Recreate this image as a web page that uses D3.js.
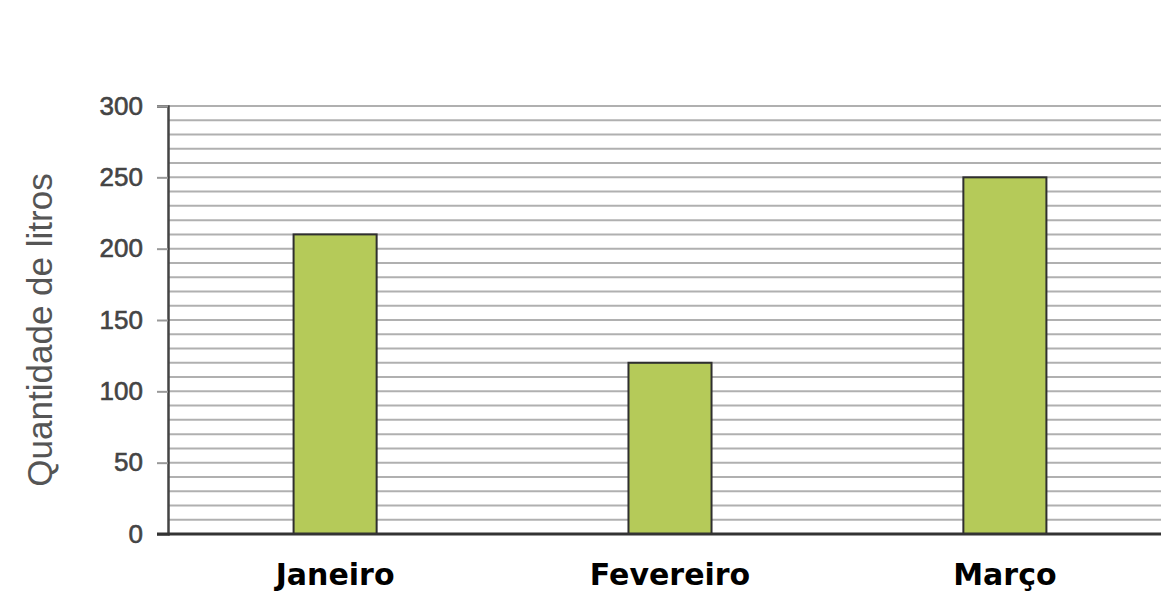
<!DOCTYPE html>
<html>
<head>
<meta charset="utf-8">
<script src="https://cdn.jsdelivr.net/npm/d3@7"></script>
<style>
  body { margin: 0; background: #fff; }
</style>
</head>
<body>
<div id="chart"></div>
<script>
const months = ["Janeiro", "Fevereiro", "Março"];
const litros = [210, 120, 250];
const yTicks = [0, 50, 100, 150, 200, 250, 300];
const gridValues = d3.range(0, 301, 10);

const width = 1161,
    height = 593,
    margin = { top: 106, right: 0, bottom: 59, left: 168 };

const svg = d3.select("#chart").append("svg")
    .attr("width", width)
    .attr("height", height);

const yScale = d3.scaleLinear()
    .domain([0, 300])
    .range([height - margin.bottom, margin.top]);

const xScale = d3.scaleBand()
    .domain(months)
    .range([margin.left, 1172])
    .paddingInner(0.752)
    .paddingOuter(0.375);

// horizontal grid lines every 10 litres
svg.append("g")
    .selectAll("line")
    .data(gridValues)
    .enter()
    .append("line")
    .attr("x1", margin.left)
    .attr("x2", width)
    .attr("y1", d => yScale(d))
    .attr("y2", d => yScale(d))
    .attr("stroke", "#b0b0b0")
    .attr("stroke-width", 2);

// y axis
const yAxis = svg.append("g")
    .attr("transform", `translate(${margin.left},0)`)
    .call(d3.axisLeft(yScale).tickValues(yTicks).tickSize(11).tickPadding(14));
yAxis.select(".domain")
    .attr("stroke", "#444")
    .attr("stroke-width", 2.5);
yAxis.selectAll(".tick line")
    .attr("stroke", "#999")
    .attr("stroke-width", 2);
yAxis.selectAll(".tick text")
    .attr("fill", "#444")
    .attr("stroke", "#444")
    .attr("stroke-width", 0.6)
    .style("font-family", "'Liberation Sans', Arial, sans-serif")
    .style("font-size", "26px");

// bars
svg.selectAll("rect.bar")
    .data(months)
    .enter()
    .append("rect")
    .attr("class", "bar")
    .attr("x", d => xScale(d))
    .attr("y", (d, i) => yScale(litros[i]))
    .attr("width", xScale.bandwidth())
    .attr("height", (d, i) => yScale(0) - yScale(litros[i]))
    .attr("fill", "#b5ca59")
    .attr("stroke", "#2f2f2f")
    .attr("stroke-width", 2);

// baseline
svg.append("line")
    .attr("x1", margin.left - 11)
    .attr("x2", width)
    .attr("y1", yScale(0))
    .attr("y2", yScale(0))
    .attr("stroke", "#333")
    .attr("stroke-width", 3);

// month labels
svg.selectAll("text.month")
    .data(months)
    .enter()
    .append("text")
    .attr("class", "month")
    .attr("x", d => xScale(d) + xScale.bandwidth() / 2)
    .attr("y", 585)
    .attr("text-anchor", "middle")
    .style("font-family", "'DejaVu Sans', Verdana, sans-serif")
    .style("font-weight", "bold")
    .style("font-size", "30px")
    .attr("fill", "#000")
    .text(d => d);

// axis label
svg.append("text")
    .attr("transform", `translate(52,${(yScale(0) + yScale(300)) / 2 + 10}) rotate(-90)`)
    .attr("text-anchor", "middle")
    .style("font-family", "'Liberation Sans', Arial, sans-serif")
    .style("font-size", "35px")
    .attr("fill", "#555")
    .text("Quantidade de litros");
</script>
</body>
</html>
